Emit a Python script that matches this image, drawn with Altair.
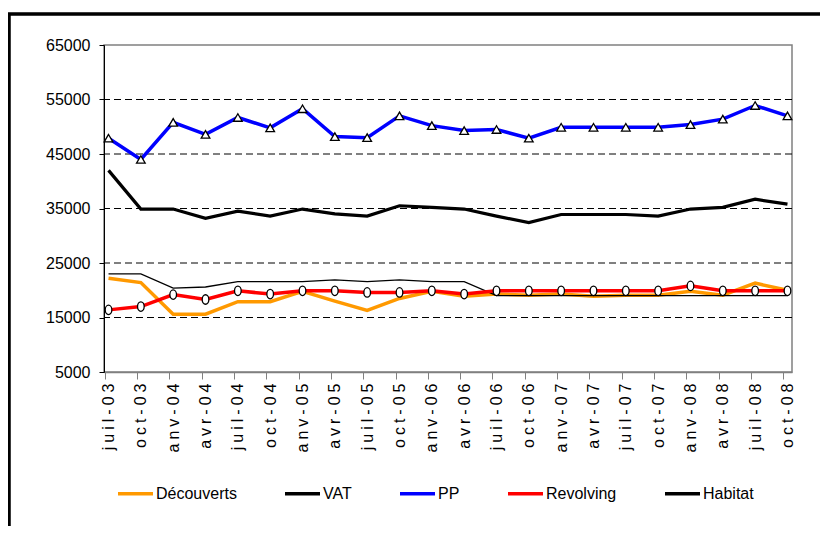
import altair as alt
import pandas as pd

months = ["juil-03", "oct-03", "anv-04", "avr-04", "juil-04", "oct-04", "anv-05", "avr-05",
          "juil-05", "oct-05", "anv-06", "avr-06", "juil-06", "oct-06", "anv-07", "avr-07",
          "juil-07", "oct-07", "anv-08", "avr-08", "juil-08", "oct-08"]

decouverts = [22200, 21400, 15600, 15600, 17900, 17900, 19800, 18000, 16300, 18500, 19800,
              18900, 19300, 19100, 19300, 18900, 19100, 19100, 19800, 19100, 21300, 20000]
vat = [23000, 23000, 20400, 20600, 21600, 21600, 21600, 21900, 21600, 21900, 21600,
       21600, 19000, 19000, 19000, 19000, 19000, 19000, 19000, 19000, 19000, 19000]
pp = [47900, 44000, 50800, 48600, 51700, 49800, 53300, 48200, 48000, 52000, 50200,
      49300, 49500, 47900, 49900, 49900, 49900, 49900, 50400, 51400, 53900, 52000]
revolving = [16400, 17000, 19200, 18300, 19900, 19300, 19900, 19900, 19600, 19600, 19900,
             19300, 19900, 19900, 19900, 19900, 19900, 19900, 20800, 19900, 19900, 19900]
habitat = [42000, 34900, 34900, 33200, 34500, 33600, 34900, 34000, 33600, 35500, 35200,
           34900, 33600, 32400, 33900, 33900, 33900, 33600, 34900, 35200, 36700, 35800]

series_names = ["Découverts", "VAT", "PP", "Revolving", "Habitat"]
series_colors = ["#FF9900", "#000000", "#0000FF", "#FF0000", "#000000"]
y_ticks = [5000, 15000, 25000, 35000, 45000, 55000, 65000]
grid_vals = [15000, 25000, 35000, 45000, 55000]

FONT = "Liberation Sans, Arial"

rows = []
for name, vals in zip(series_names, [decouverts, vat, pp, revolving, habitat]):
    for i, (m, v) in enumerate(zip(months, vals)):
        rows.append({"series": name, "month": m, "idx": i, "value": v})
df = pd.DataFrame(rows)
grid_df = pd.DataFrame({"g": grid_vals})

y_scale = alt.Scale(domain=[5000, 65000], nice=False, zero=False)
y_axis = alt.Axis(title=None, values=y_ticks, format="d", grid=False,
                  labelFont=FONT, labelFontSize=16, labelColor="#000000",
                  tickColor="#000000", tickSize=5, domainColor="#000000",
                  labelPadding=9)

x_enc = alt.X("month:N", sort=months,
              scale=alt.Scale(type="point", padding=0.14),
              axis=alt.Axis(title=None, labelAngle=270, labelAlign="right", labelBaseline="middle",
                            labelFont=FONT, labelFontSize=16, labelColor="#000000",
                            labelExpr="join(split(datum.label, ''), '\u2005')",
                            tickColor="#808080", tickSize=7, tickOffset=-4, labelOffset=4,
                            domainColor="#808080", domainWidth=1.5, labelPadding=4, grid=False))
y_enc = alt.Y("value:Q", scale=y_scale, axis=y_axis)
color_enc = alt.Color("series:N",
                      scale=alt.Scale(domain=series_names, range=series_colors),
                      legend=alt.Legend(title=None, orient="none", direction="horizontal",
                                        legendX=12, legendY=429, symbolType="stroke",
                                        symbolSize=1225, symbolStrokeWidth=3.5,
                                        labelFont=FONT, labelFontSize=16, labelColor="#000000",
                                        columnPadding=41, labelOffset=1))

grid = alt.Chart(grid_df).mark_rule(color="#000000", strokeWidth=1, strokeDash=[7, 4]).encode(
    y=alt.Y("g:Q", scale=y_scale, axis=y_axis)
)

widths = {"Découverts": 3.5, "VAT": 1.3, "PP": 3.5, "Revolving": 3.5, "Habitat": 3.2}

layers = [grid]
base = alt.Chart(df)
for name in series_names:
    layers.append(
        base.transform_filter(alt.datum.series == name)
        .mark_line(strokeWidth=widths[name])
        .encode(x=x_enc, y=y_enc, color=color_enc, order="idx:Q")
    )
    if name == "PP":
        layers.append(
            base.transform_filter(alt.datum.series == name)
            .mark_point(shape="triangle-up", filled=True, fill="white", stroke="black",
                        strokeWidth=1.3, size=75, opacity=1)
            .encode(x=x_enc, y=y_enc)
        )
    if name == "Revolving":
        layers.append(
            base.transform_filter(alt.datum.series == name)
            .mark_point(shape="M-0.7,0 A0.7,1 0 1,0 0.7,0 A0.7,1 0 1,0 -0.7,0 Z",
                        filled=True, fill="white", stroke="black",
                        strokeWidth=1.3, size=90, opacity=1)
            .encode(x=x_enc, y=y_enc)
        )

frame_top = alt.Chart(grid_df).mark_rule(color="#000000", strokeWidth=2.5).encode(
    x=alt.value(-96), x2=alt.value(730), y=alt.value(-31)
)
frame_left = alt.Chart(grid_df).mark_rule(color="#000000", strokeWidth=2.5).encode(
    x=alt.value(-95), y=alt.value(-31), y2=alt.value(500)
)
layers += [frame_top, frame_left]

chart = alt.layer(*layers).properties(
    width=688, height=327,
    autosize=alt.AutoSizeParams(type="none"),
    padding={"left": 96, "top": 37, "right": 28, "bottom": 154},
    background="white",
).configure_view(stroke="#808080", strokeWidth=1.5)

chart.save("out.html", embed_options={"renderer": "svg", "actions": False})
